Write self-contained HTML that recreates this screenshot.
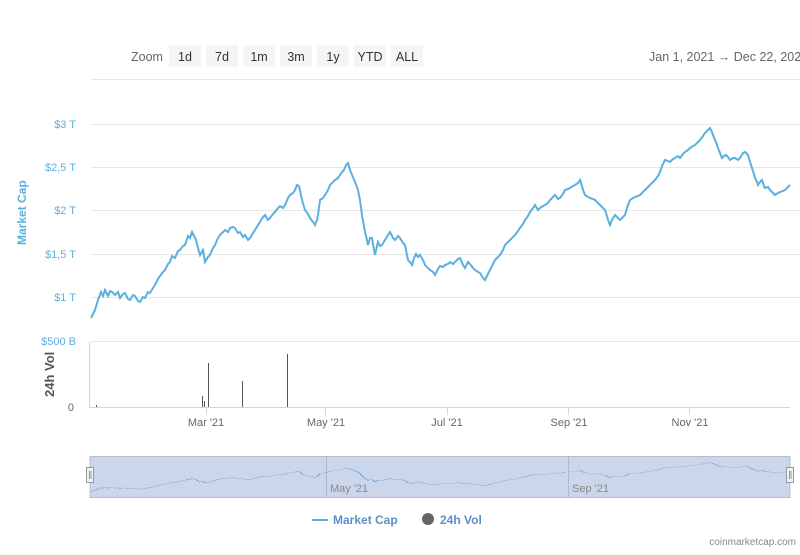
<!DOCTYPE html><html><head><style>body{margin:0;background:#fff;width:800px;height:550px;overflow:hidden;font-family:"Liberation Sans",sans-serif}</style></head><body>
<svg width="800" height="550" xmlns="http://www.w3.org/2000/svg" font-family="Liberation Sans, sans-serif">
<text x="131" y="61" font-size="12.5" fill="#666">Zoom</text>
<g font-size="12.5" fill="#333" text-anchor="middle">
<rect x="169" y="45" width="32" height="22" fill="#f5f5f5"/><text x="185" y="61">1d</text>
<rect x="206" y="45" width="32" height="22" fill="#f5f5f5"/><text x="222" y="61">7d</text>
<rect x="243" y="45" width="32" height="22" fill="#f5f5f5"/><text x="259" y="61">1m</text>
<rect x="280" y="45" width="32" height="22" fill="#f5f5f5"/><text x="296" y="61">3m</text>
<rect x="317" y="45" width="32" height="22" fill="#f5f5f5"/><text x="333" y="61">1y</text>
<rect x="354" y="45" width="32" height="22" fill="#f5f5f5"/><text x="370" y="61">YTD</text>
<rect x="391" y="45" width="32" height="22" fill="#f5f5f5"/><text x="407" y="61">ALL</text>
</g>
<text x="649" y="61" font-size="12.5" fill="#666">Jan 1, 2021  →  Dec 22, 2021</text>
<g stroke="#e6e6e6" stroke-width="1">
<line x1="91" y1="79.5" x2="800" y2="79.5"/><line x1="91" y1="124.5" x2="800" y2="124.5"/><line x1="91" y1="167.5" x2="800" y2="167.5"/><line x1="91" y1="210.5" x2="800" y2="210.5"/><line x1="91" y1="254.5" x2="800" y2="254.5"/><line x1="91" y1="297.5" x2="800" y2="297.5"/><line x1="91" y1="341.5" x2="800" y2="341.5"/>
</g>
<g font-size="11" fill="#5bb0e0" text-anchor="end">
<text x="76" y="128">$3 T</text><text x="76" y="171">$2,5 T</text><text x="76" y="214">$2 T</text><text x="76" y="258">$1,5 T</text><text x="76" y="301">$1 T</text><text x="76" y="345">$500 B</text>
</g>
<text x="0" y="0" font-size="12" font-weight="bold" fill="#5bb0e0" transform="translate(26,245) rotate(-90)">Market Cap</text>
<text x="0" y="0" font-size="13" font-weight="bold" fill="#555" transform="translate(54,397) rotate(-90)">24h Vol</text>
<text x="74" y="411" font-size="11" fill="#666" text-anchor="end">0</text>
<line x1="89.5" y1="342" x2="89.5" y2="408" stroke="#ccd6eb"/>
<line x1="89" y1="407.5" x2="790" y2="407.5" stroke="#ccd6eb"/>
<g stroke="#ccd6eb"><line x1="206.5" y1="408" x2="206.5" y2="415"/><line x1="325.5" y1="408" x2="325.5" y2="415"/><line x1="447.5" y1="408" x2="447.5" y2="415"/><line x1="568.5" y1="408" x2="568.5" y2="415"/><line x1="689.5" y1="408" x2="689.5" y2="415"/></g>
<g stroke="#555" stroke-width="1"><line x1="202.5" y1="407" x2="202.5" y2="396"/><line x1="204.5" y1="407" x2="204.5" y2="401"/><line x1="208.5" y1="407" x2="208.5" y2="363"/><line x1="242.5" y1="407" x2="242.5" y2="381"/><line x1="287.5" y1="407" x2="287.5" y2="354"/><line x1="96.5" y1="407" x2="96.5" y2="405"/></g>
<g font-size="11" fill="#666" text-anchor="middle"><text x="206" y="426">Mar '21</text><text x="326" y="426">May '21</text><text x="447" y="426">Jul '21</text><text x="569" y="426">Sep '21</text><text x="690" y="426">Nov '21</text></g>
<defs><polyline id="mc" fill="none" points="91,318 93,314 95,310 98,300 101,292 103,296 105,290 108,296 110,291 112,292 115,295 118,292 120,298 123,294 125,293 128,299 130,300 133,295 135,296 138,301 140,302 143,297 145,298 148,292 150,293 153,288 155,285 158,279 160,276 163,272 165,270 168,264 170,262 172,256 175,258 178,251 180,250 183,246 185,245 188,236 190,238 192,232 194,236 196,240 198,248 200,255 203,250 205,262 208,257 210,255 213,248 215,245 218,238 220,235 223,232 225,230 228,232 230,228 233,227 235,228 238,233 240,232 243,237 245,235 248,240 250,238 253,233 255,230 258,225 260,222 263,217 265,215 268,220 270,218 273,214 275,212 278,208 280,206 283,208 285,205 288,198 290,195 293,193 295,190 297,185 299,186 302,200 305,210 308,214 310,218 313,222 315,225 317,220 318,215 320,200 323,198 325,195 328,190 330,185 333,182 335,180 338,178 340,175 342,172 344,170 346,165 348,163 350,170 352,175 355,182 358,190 360,200 362,215 365,232 367,240 368,245 370,238 372,238 374,250 375,255 377,246 378,242 380,246 382,245 385,240 388,235 390,232 393,238 395,240 398,236 400,238 403,243 405,245 408,260 410,262 412,265 414,258 416,254 418,257 420,255 423,260 425,265 428,268 430,270 433,272 435,275 438,269 440,266 443,267 445,265 448,264 450,262 453,264 455,262 458,259 460,258 463,265 465,268 468,262 470,264 473,268 475,270 478,272 480,273 483,278 485,280 488,274 490,270 493,264 495,260 498,257 500,255 503,250 505,245 508,242 510,240 513,237 515,235 518,231 520,228 523,224 525,220 528,216 530,212 533,208 535,205 538,210 540,208 543,206 545,205 548,203 550,200 553,197 555,195 558,199 560,198 563,194 565,190 568,189 570,188 573,186 575,185 578,183 580,180 582,186 583,190 585,195 588,197 590,198 593,199 595,200 598,203 600,205 603,208 605,210 607,216 608,220 610,225 612,220 613,218 615,215 618,218 620,220 623,217 625,215 627,208 628,205 630,200 633,198 635,197 638,196 640,195 643,192 645,190 648,187 650,185 653,182 655,180 658,176 660,172 662,166 665,160 668,161 670,162 673,159 675,158 678,156 680,158 683,154 685,152 688,150 690,148 693,146 695,145 698,142 700,140 703,136 705,133 708,130 710,128 712,132 713,135 715,140 717,145 718,148 720,153 722,158 724,156 726,155 728,157 730,160 733,158 735,158 738,160 740,158 743,153 745,152 748,155 750,162 752,168 754,174 755,178 757,182 758,185 760,182 762,180 764,186 765,188 768,187 770,190 773,193 775,195 778,193 780,192 783,191 785,190 788,187 790,185"/></defs>
<use href="#mc" stroke="#5bb0e0" stroke-width="2"/>
<rect x="90" y="456.5" width="700" height="41" fill="#ccd6eb" stroke="#b3bcd0"/>
<line x1="326.5" y1="457" x2="326.5" y2="497" stroke="#b0b9cc"/><line x1="568.5" y1="457" x2="568.5" y2="497" stroke="#b0b9cc"/>
<g transform="translate(0,443) scale(1,0.153)"><use href="#mc" stroke="#5b9ad8" stroke-width="1.3" vector-effect="non-scaling-stroke"/></g>
<text x="330" y="492" font-size="11" fill="#888">May '21</text><text x="572" y="492" font-size="11" fill="#888">Sep '21</text>
<rect x="86.5" y="467.5" width="7" height="15" fill="#f2f2f2" stroke="#999"/><line x1="89.5" y1="471" x2="89.5" y2="479" stroke="#999"/><line x1="91" y1="471" x2="91" y2="479" stroke="#999"/>
<rect x="786.5" y="467.5" width="7" height="15" fill="#f2f2f2" stroke="#999"/><line x1="789.5" y1="471" x2="789.5" y2="479" stroke="#999"/><line x1="791" y1="471" x2="791" y2="479" stroke="#999"/>
<line x1="312" y1="520" x2="328" y2="520" stroke="#5bb0e0" stroke-width="2"/>
<text x="333" y="524" font-size="12" font-weight="bold" fill="#5b8fc8">Market Cap</text>
<circle cx="428" cy="519" r="6" fill="#666"/>
<text x="440" y="524" font-size="12" font-weight="bold" fill="#5b8fc8">24h Vol</text>
<text x="796" y="545" font-size="10" fill="#888" text-anchor="end">coinmarketcap.com</text>
</svg></body></html>
